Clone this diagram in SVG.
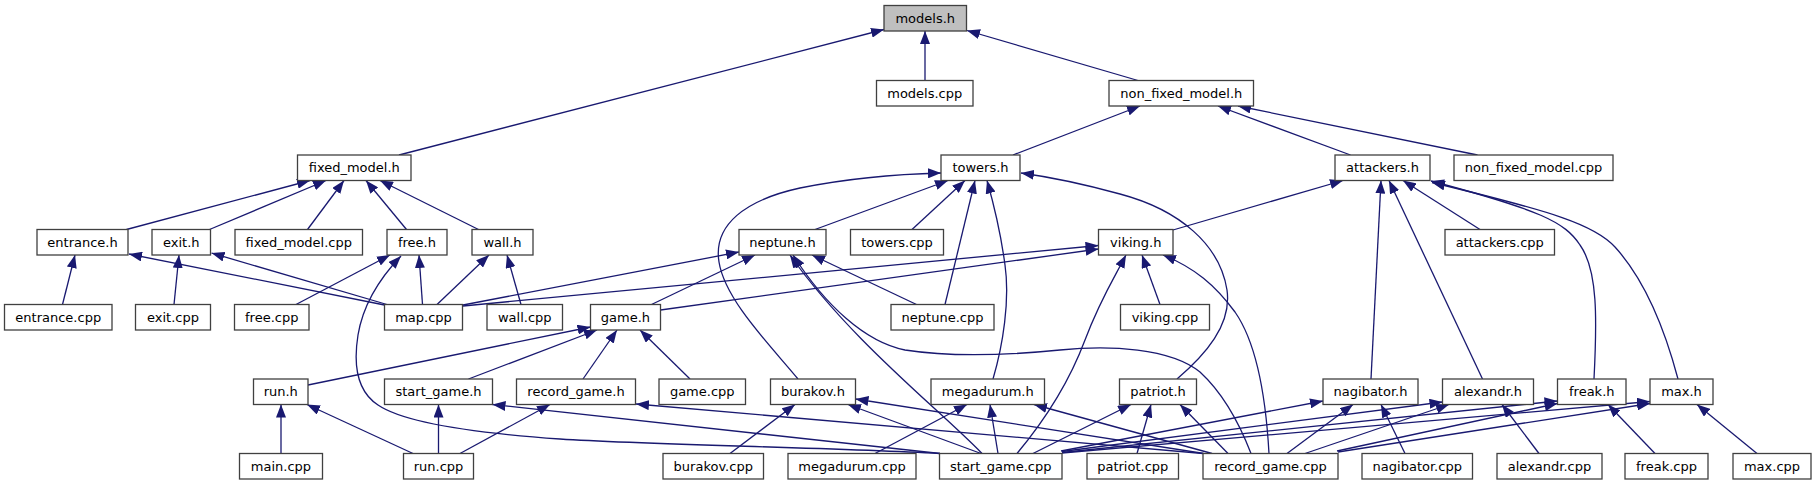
<svg xmlns="http://www.w3.org/2000/svg" width="1817" height="485" viewBox="0 0 1817 485">
<defs>
<marker id="ah" viewBox="0 0 13 10" refX="13" refY="5" markerWidth="13" markerHeight="10" orient="auto" markerUnits="userSpaceOnUse"><path d="M0,0 L13,5 L0,10 z" fill="#191970"/></marker>
</defs>
<style>
.n rect{fill:#fff;stroke:#404040;stroke-width:1.3}
.n text{font-family:"DejaVu Sans",sans-serif;font-size:13px;text-anchor:middle;fill:#000}
#n_models_h rect{fill:#bfbfbf}
.e path{fill:none;stroke:#191970;stroke-width:1.3;marker-end:url(#ah)}
</style>
<rect width="1817" height="485" fill="#fff"/>
<g id="edges" class="e">
<path d="M399,155 L884,29.5"/>
<path d="M925,80.5 L925,31"/>
<path d="M1138,80.5 L967,30.5"/>
<path d="M126.5,229.5 L310,180.5"/>
<path d="M209.5,229.5 L326,180.5"/>
<path d="M307.5,229.5 L344,180.5"/>
<path d="M406.5,229.5 L366,180.5"/>
<path d="M478.5,229.5 L380,180.5"/>
<path d="M1013,155 L1140,106"/>
<path d="M1350.5,155 L1218,106"/>
<path d="M1477.5,155 L1238,106"/>
<path d="M62.5,304.5 L75,255"/>
<path d="M384.5,305 L129,254"/>
<path d="M174,304.5 L179,255"/>
<path d="M387,304.5 L211.5,253"/>
<path d="M296,304.5 L390,255"/>
<path d="M422.5,304.5 L419,255"/>
<path d="M940,453.5 C820,447 650,445 560,439 C460,432 400,420 378,405 C355,390 354,360 358,335 C363,305 378,280 401,256"/>
<path d="M437,304.5 L489,255"/>
<path d="M521,304.5 L507,255"/>
<path d="M815,229.5 L948,180.5"/>
<path d="M912,229.5 L965,180.5"/>
<path d="M945,304.5 L975,180.5"/>
<path d="M798,379 C770,345 725,300 719,262 C713,225 745,200 800,188 C850,178 900,174 941,173"/>
<path d="M993,379 C1003,345 1010,300 1005,265 C1001,235 994,205 987,180.5"/>
<path d="M1177,379 C1205,355 1232,325 1227,290 C1220,245 1180,210 1120,194 C1080,183 1050,177 1021,173"/>
<path d="M1173,230 L1343,180.5"/>
<path d="M1480,229.5 L1403,180.5"/>
<path d="M1371,379 L1381,180.5"/>
<path d="M1482.5,379 L1389,180.5"/>
<path d="M1594,379 C1597,320 1598,270 1580,245 C1565,222 1540,210 1431,181"/>
<path d="M1678,379 C1665,330 1645,280 1615,247 C1595,225 1555,212 1432,182.5"/>
<path d="M463,305 L739,252"/>
<path d="M651.5,304.5 L755,255"/>
<path d="M916.5,304.5 L812,255"/>
<path d="M982,453.5 C940,410 850,340 790,255"/>
<path d="M1251,453.5 C1240,425 1225,395 1200,372 C1170,348 1110,345 1060,350 C1010,355 950,357 905,350 C865,342 825,305 793,255"/>
<path d="M463,306 L1098.5,245.5"/>
<path d="M660.5,310 L1098.5,249"/>
<path d="M1160,304.5 L1142,255"/>
<path d="M1017,453.5 C1045,420 1070,380 1085,340 C1100,300 1113,280 1126,255"/>
<path d="M1269,453.5 C1266,400 1258,345 1235,312 C1215,285 1195,268 1163,255"/>
<path d="M308,385 L590.5,327"/>
<path d="M468.5,379 L597,330"/>
<path d="M583,379 L617,330"/>
<path d="M690,379 L640,330"/>
<path d="M281,453.5 L281,404.5"/>
<path d="M413,453.5 L307,404.5"/>
<path d="M438.5,453.5 L438.5,404.5"/>
<path d="M940,453.5 L492.5,404.5"/>
<path d="M460,453.5 L550,404.5"/>
<path d="M1203,453.5 L636,404"/>
<path d="M730,453.5 L795,404.5"/>
<path d="M981,453.5 L848,404.5"/>
<path d="M1204,453.5 L855.5,399"/>
<path d="M875,453.5 L967,404.5"/>
<path d="M998,453.5 L990,404.5"/>
<path d="M1212,453.5 L1034,404.5"/>
<path d="M1033,453.5 L1131,404.5"/>
<path d="M1137,453.5 L1151,404.5"/>
<path d="M1228,453.5 L1180,404.5"/>
<path d="M1061,451 L1323,401"/>
<path d="M1287,453.5 L1353,404.5"/>
<path d="M1405,453.5 L1381,404.5"/>
<path d="M1062,451.5 L1442.5,402"/>
<path d="M1305,453.5 L1449,404.5"/>
<path d="M1539,453.5 L1502,404.5"/>
<path d="M1062,452.5 L1557.5,401"/>
<path d="M1337,451 L1557.5,403.5"/>
<path d="M1655,453.5 L1608,404.5"/>
<path d="M1062,453 L1650,401.5"/>
<path d="M1338,452 L1650,403.5"/>
<path d="M1757,453.5 L1697,404.5"/>
</g>
<g id="n_models_h" class="n"><rect x="884" y="5.5" width="82.5" height="25.5"/><text x="925.25" y="22.5">models.h</text></g>
<g id="n_models_cpp" class="n"><rect x="876.5" y="80.5" width="96.5" height="25.5"/><text x="924.75" y="97.5">models.cpp</text></g>
<g id="n_non_fixed_model_h" class="n"><rect x="1109" y="80.5" width="144.5" height="25.5"/><text x="1181.25" y="97.5">non_fixed_model.h</text></g>
<g id="n_fixed_model_h" class="n"><rect x="297.5" y="155" width="113.5" height="25.5"/><text x="354.25" y="172">fixed_model.h</text></g>
<g id="n_towers_h" class="n"><rect x="941" y="155" width="79" height="25.5"/><text x="980.5" y="172">towers.h</text></g>
<g id="n_attackers_h" class="n"><rect x="1335" y="155" width="95" height="25.5"/><text x="1382.5" y="172">attackers.h</text></g>
<g id="n_non_fixed_model_cpp" class="n"><rect x="1454" y="155" width="159" height="25.5"/><text x="1533.5" y="172">non_fixed_model.cpp</text></g>
<g id="n_entrance_h" class="n"><rect x="37" y="229.5" width="91" height="25.5"/><text x="82.5" y="246.5">entrance.h</text></g>
<g id="n_exit_h" class="n"><rect x="152" y="229.5" width="58.5" height="25.5"/><text x="181.25" y="246.5">exit.h</text></g>
<g id="n_fixed_model_cpp" class="n"><rect x="235" y="229.5" width="127.5" height="25.5"/><text x="298.75" y="246.5">fixed_model.cpp</text></g>
<g id="n_free_h" class="n"><rect x="387" y="229.5" width="60" height="25.5"/><text x="417" y="246.5">free.h</text></g>
<g id="n_wall_h" class="n"><rect x="472" y="229.5" width="61" height="25.5"/><text x="502.5" y="246.5">wall.h</text></g>
<g id="n_neptune_h" class="n"><rect x="739" y="229.5" width="87" height="25.5"/><text x="782.5" y="246.5">neptune.h</text></g>
<g id="n_towers_cpp" class="n"><rect x="850.5" y="229.5" width="93" height="25.5"/><text x="897" y="246.5">towers.cpp</text></g>
<g id="n_viking_h" class="n"><rect x="1098.5" y="229.5" width="74.5" height="25.5"/><text x="1135.75" y="246.5">viking.h</text></g>
<g id="n_attackers_cpp" class="n"><rect x="1445" y="229.5" width="109.5" height="25.5"/><text x="1499.75" y="246.5">attackers.cpp</text></g>
<g id="n_entrance_cpp" class="n"><rect x="4.5" y="304.5" width="107.5" height="25.5"/><text x="58.25" y="321.5">entrance.cpp</text></g>
<g id="n_exit_cpp" class="n"><rect x="135.5" y="304.5" width="75" height="25.5"/><text x="173" y="321.5">exit.cpp</text></g>
<g id="n_free_cpp" class="n"><rect x="234.5" y="304.5" width="74.5" height="25.5"/><text x="271.75" y="321.5">free.cpp</text></g>
<g id="n_map_cpp" class="n"><rect x="384.5" y="304.5" width="78" height="25.5"/><text x="423.5" y="321.5">map.cpp</text></g>
<g id="n_wall_cpp" class="n"><rect x="487" y="304.5" width="75.5" height="25.5"/><text x="524.75" y="321.5">wall.cpp</text></g>
<g id="n_game_h" class="n"><rect x="590.5" y="304.5" width="70" height="25.5"/><text x="625.5" y="321.5">game.h</text></g>
<g id="n_neptune_cpp" class="n"><rect x="891" y="304.5" width="103" height="25.5"/><text x="942.5" y="321.5">neptune.cpp</text></g>
<g id="n_viking_cpp" class="n"><rect x="1120.5" y="304.5" width="89" height="25.5"/><text x="1165" y="321.5">viking.cpp</text></g>
<g id="n_run_h" class="n"><rect x="253.5" y="379" width="54.5" height="25.5"/><text x="280.75" y="396">run.h</text></g>
<g id="n_start_game_h" class="n"><rect x="384.5" y="379" width="108" height="25.5"/><text x="438.5" y="396">start_game.h</text></g>
<g id="n_record_game_h" class="n"><rect x="516.5" y="379" width="119" height="25.5"/><text x="576" y="396">record_game.h</text></g>
<g id="n_game_cpp" class="n"><rect x="659" y="379" width="86.5" height="25.5"/><text x="702.25" y="396">game.cpp</text></g>
<g id="n_burakov_h" class="n"><rect x="770.5" y="379" width="85" height="25.5"/><text x="813" y="396">burakov.h</text></g>
<g id="n_megadurum_h" class="n"><rect x="931" y="379" width="113.5" height="25.5"/><text x="987.75" y="396">megadurum.h</text></g>
<g id="n_patriot_h" class="n"><rect x="1119.5" y="379" width="77" height="25.5"/><text x="1158" y="396">patriot.h</text></g>
<g id="n_nagibator_h" class="n"><rect x="1323" y="379" width="95" height="25.5"/><text x="1370.5" y="396">nagibator.h</text></g>
<g id="n_alexandr_h" class="n"><rect x="1442.5" y="379" width="91" height="25.5"/><text x="1488" y="396">alexandr.h</text></g>
<g id="n_freak_h" class="n"><rect x="1557.5" y="379" width="68.5" height="25.5"/><text x="1591.75" y="396">freak.h</text></g>
<g id="n_max_h" class="n"><rect x="1650" y="379" width="63" height="25.5"/><text x="1681.5" y="396">max.h</text></g>
<g id="n_main_cpp" class="n"><rect x="239.5" y="453.5" width="83" height="25.5"/><text x="281" y="470.5">main.cpp</text></g>
<g id="n_run_cpp" class="n"><rect x="403.5" y="453.5" width="70" height="25.5"/><text x="438.5" y="470.5">run.cpp</text></g>
<g id="n_burakov_cpp" class="n"><rect x="663" y="453.5" width="100.5" height="25.5"/><text x="713.25" y="470.5">burakov.cpp</text></g>
<g id="n_megadurum_cpp" class="n"><rect x="788" y="453.5" width="128" height="25.5"/><text x="852" y="470.5">megadurum.cpp</text></g>
<g id="n_start_game_cpp" class="n"><rect x="939.5" y="453.5" width="122.5" height="25.5"/><text x="1000.75" y="470.5">start_game.cpp</text></g>
<g id="n_patriot_cpp" class="n"><rect x="1087" y="453.5" width="91.5" height="25.5"/><text x="1132.75" y="470.5">patriot.cpp</text></g>
<g id="n_record_game_cpp" class="n"><rect x="1203" y="453.5" width="135" height="25.5"/><text x="1270.5" y="470.5">record_game.cpp</text></g>
<g id="n_nagibator_cpp" class="n"><rect x="1362" y="453.5" width="110.5" height="25.5"/><text x="1417.25" y="470.5">nagibator.cpp</text></g>
<g id="n_alexandr_cpp" class="n"><rect x="1497" y="453.5" width="105" height="25.5"/><text x="1549.5" y="470.5">alexandr.cpp</text></g>
<g id="n_freak_cpp" class="n"><rect x="1625" y="453.5" width="83" height="25.5"/><text x="1666.5" y="470.5">freak.cpp</text></g>
<g id="n_max_cpp" class="n"><rect x="1733" y="453.5" width="78" height="25.5"/><text x="1772" y="470.5">max.cpp</text></g>
</svg>
